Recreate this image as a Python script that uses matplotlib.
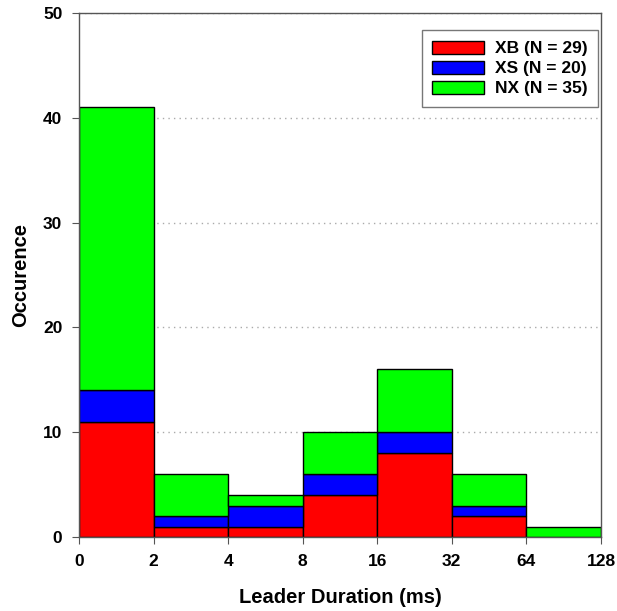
import numpy as np
import matplotlib.pyplot as plt

plt.rcParams['font.family'] = ['Liberation Sans', 'DejaVu Sans']

bin_edges = ['0', '2', '4', '8', '16', '32', '64', '128']
xb = [11, 1, 1, 4, 8, 2, 0]
xs = [3, 1, 2, 2, 2, 1, 0]
nx = [27, 4, 1, 4, 6, 3, 1]
labels = ['XB (N = 29)', 'XS (N = 20)', 'NX (N = 35)']

x = np.arange(len(xb))
xb = np.array(xb)
xs = np.array(xs)
nx = np.array(nx)

fig = plt.figure(figsize=(6.17, 6.11), dpi=100)
ax = fig.add_axes([0.128, 0.121, 0.846, 0.858])

ax.bar(x, xb, width=1, align='edge', color='#ff0000', edgecolor='black', linewidth=1, label=labels[0], zorder=2)
ax.bar(x, xs, width=1, align='edge', bottom=xb, color='#0000ff', edgecolor='black', linewidth=1, label=labels[1], zorder=2)
ax.bar(x, nx, width=1, align='edge', bottom=xb + xs, color='#00ff00', edgecolor='black', linewidth=1, label=labels[2], zorder=2)

ax.set_xlim(0, 7)
ax.set_ylim(0, 50)
ax.set_xticks(np.arange(len(bin_edges)))
ax.set_xticklabels(bin_edges)
ax.set_yticks([0, 10, 20, 30, 40, 50])
ax.yaxis.grid(True, linestyle=(0, (1, 3)), color='#aaaaaa', linewidth=1, zorder=0)
ax.set_axisbelow(True)

for s in ax.spines.values():
    s.set_color('#555555')
    s.set_linewidth(1)
ax.tick_params(direction='out', length=5, color='#555555', labelsize=12.5, pad=7)
for t in ax.get_xticklabels() + ax.get_yticklabels():
    t.set_fontweight('bold')

ax.set_xlabel('Leader Duration (ms)', fontsize=14.5, fontweight='bold', labelpad=14)
ax.set_ylabel('Occurence', fontsize=14.5, fontweight='bold', labelpad=9)

leg = ax.legend(loc='upper right', bbox_to_anchor=(0.994, 0.967), borderaxespad=0,
                fontsize=12.5, frameon=True,
                fancybox=False, edgecolor='#555555', handlelength=3, handleheight=0.8,
                borderpad=0.6, labelspacing=0.25, handletextpad=0.6)
for t in leg.get_texts():
    t.set_fontweight('bold')
leg.get_frame().set_linewidth(1)

fig.savefig('out.png', dpi=100)
